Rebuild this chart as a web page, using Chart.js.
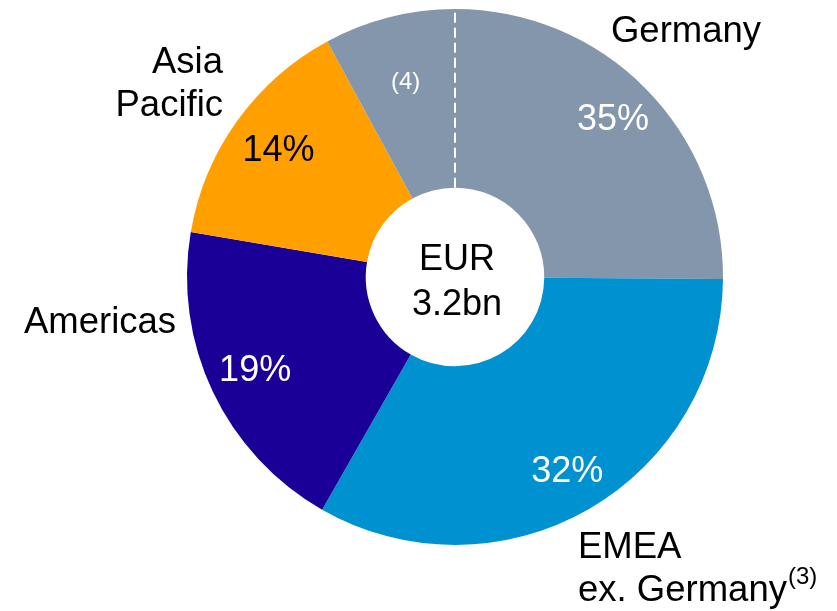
<!DOCTYPE html>
<html>
<head>
<meta charset="utf-8">
<script src="https://cdn.jsdelivr.net/npm/chart.js@4/dist/chart.umd.min.js"></script>
<style>
  html, body { margin: 0; padding: 0; background: #fff; }
  canvas { display: block; }
</style>
</head>
<body>
<canvas id="chart" width="837" height="611"></canvas>
<script>
// slices clockwise from 12 o'clock, share of the ring
const regions = ['Germany', 'EMEA ex. Germany', 'Americas', 'Asia Pacific', 'Germany (4)'];
const shares = [25.1, 33.1, 19.4, 14.4, 7.9];
const pctLabels = ['35%', '32%', '19%', '14%', '(4)'];
const centerLines = ['EUR', '3.2bn'];

const COLORS = ['#8496AB', '#0092D0', '#1A0096', '#FFA000', '#8496AB'];
const PCT_COLORS = ['#fff', '#fff', '#fff', '#000', '#fff'];
const PCT_RADIUS = [0.83, 0.84, 0.825, 0.81, 0.75];
const FONT = '"Liberation Sans", Arial, sans-serif';

// outside name labels (text lines, anchor, alignment)
const nameLabels = [
  { lines: ['Germany'], x: 686, y: 42, align: 'center' },
  { lines: ['Asia', 'Pacific'], x: 223, y: 73, align: 'right' },
  { lines: ['Americas'], x: 100, y: 333, align: 'center' },
  { lines: ['EMEA', 'ex. Germany'], x: 578, y: 558, align: 'left', sup: '(3)' }
];

const labelPlugin = {
  id: 'labels',
  afterDatasetsDraw(chart) {
    const ctx = chart.ctx;
    const arcs = chart.getDatasetMeta(0).data;
    const cx = arcs[0].x, cy = arcs[0].y;

    // dashed divider between the two Germany parts
    const a = arcs[0].startAngle;
    ctx.save();
    ctx.strokeStyle = '#fff';
    ctx.lineWidth = 2;
    ctx.setLineDash([10, 5]);
    ctx.beginPath();
    ctx.moveTo(cx + Math.cos(a) * arcs[0].innerRadius, cy + Math.sin(a) * arcs[0].innerRadius);
    ctx.lineTo(cx + Math.cos(a) * arcs[0].outerRadius, cy + Math.sin(a) * arcs[0].outerRadius);
    ctx.stroke();
    ctx.restore();

    // percentages inside slices
    ctx.save();
    ctx.textAlign = 'center';
    ctx.textBaseline = 'middle';
    arcs.forEach((arc, i) => {
      const mid = (arc.startAngle + arc.endAngle) / 2;
      const r = arc.outerRadius * PCT_RADIUS[i];
      ctx.font = (i === 4 ? '24px ' : '36px ') + FONT;
      ctx.fillStyle = PCT_COLORS[i];
      ctx.fillText(pctLabels[i], cx + Math.cos(mid) * r, cy + Math.sin(mid) * r);
    });

    // centre text
    ctx.fillStyle = '#000';
    ctx.font = '36px ' + FONT;
    ctx.textBaseline = 'alphabetic';
    ctx.fillText(centerLines[0], cx + 2, cy - 7);
    ctx.fillText(centerLines[1], cx + 2, cy + 38);

    // names outside the ring
    nameLabels.forEach(l => {
      ctx.font = '36.5px ' + FONT;
      ctx.textAlign = l.align;
      l.lines.forEach((t, j) => ctx.fillText(t, l.x, l.y + j * 42.5));
      if (l.sup) {
        const last = l.lines[l.lines.length - 1];
        const w = ctx.measureText(last).width;
        ctx.font = '24px ' + FONT;
        ctx.textAlign = 'left';
        ctx.fillText(l.sup, l.x + w + 1, l.y + (l.lines.length - 1) * 42.5 - 17);
      }
    });
    ctx.restore();
  }
};

new Chart(document.getElementById('chart'), {
  type: 'doughnut',
  data: {
    labels: regions,
    datasets: [{
      data: shares,
      backgroundColor: COLORS,
      borderWidth: 0
    }]
  },
  options: {
    responsive: false,
    animation: false,
    cutout: '33.3%',
    layout: { padding: { left: 187, right: 114, top: 9, bottom: 66 } },
    plugins: {
      legend: { display: false },
      tooltip: { enabled: false }
    }
  },
  plugins: [labelPlugin]
});
</script>
</body>
</html>
